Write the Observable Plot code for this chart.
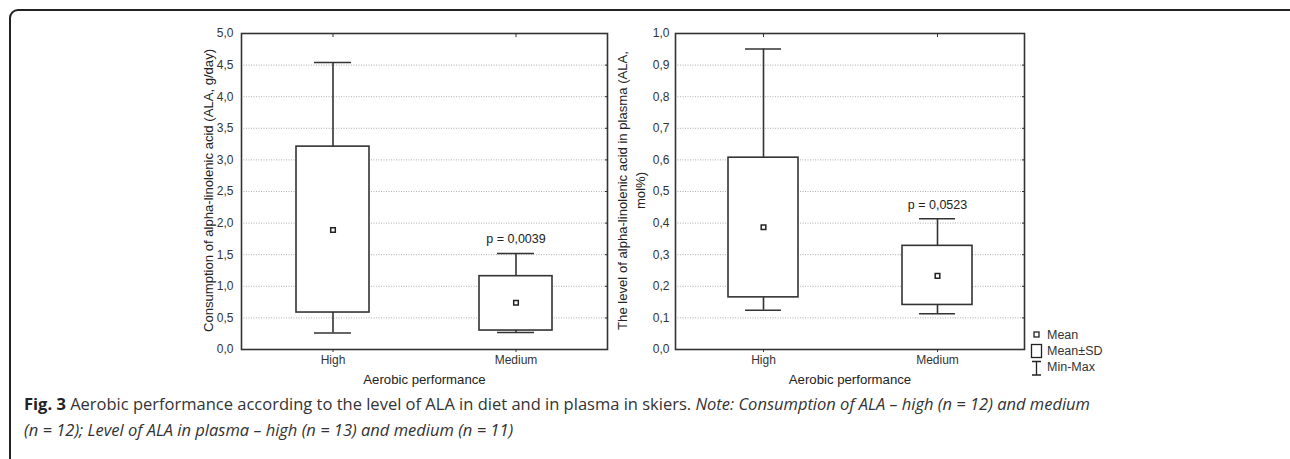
<!DOCTYPE html>
<html>
<head>
<meta charset="utf-8">
<script src="https://cdn.jsdelivr.net/npm/d3@7"></script>
<script src="https://cdn.jsdelivr.net/npm/@observablehq/plot@0.6"></script>
<style>
  html, body { margin: 0; padding: 0; background: #fff; }
  #root { position: relative; width: 1290px; height: 459px; overflow: hidden; background: #fff; }
  #border { position: absolute; left: 9px; top: 9px; width: 1290px; height: 520px; border: 2px solid #222;
            border-radius: 9px 6px 0 0; box-sizing: border-box; }
  .panel { position: absolute; top: 0; }
  #legend { position: absolute; left: 1026px; top: 324px; }
  #caption { position: absolute; left: 24px; top: 391px; white-space: nowrap; font-family: "Open Sans", "Noto Sans", sans-serif;
             font-size: 16.5px; line-height: 26px; color: #333; }
  #caption b { color: #222; }
</style>
</head>
<body>
<div id="root">
  <div id="border"></div>
  <div id="left" class="panel" style="left:180px"></div>
  <div id="right" class="panel" style="left:600px"></div>
  <svg id="legend" width="120" height="56"></svg>
  <div id="caption"></div>
</div>
<script>
// ---- data ----
const categories = ["High", "Medium"];
const xTitle = "Aerobic performance";

// Panel A: consumption of ALA (g/day)
const dietTitle = "Consumption of alpha-linolenic acid (ALA, g/day)";
const dietMean = [1.89, 0.74];
const dietMeanMinusSD = [0.585, 0.30];
const dietMeanPlusSD = [3.21, 1.16];
const dietMin = [0.26, 0.27];
const dietMax = [4.54, 1.52];
const dietP = ["", "p = 0,0039"];
const dietTicks = [0, 0.5, 1, 1.5, 2, 2.5, 3, 3.5, 4, 4.5, 5];

// Panel B: level of ALA in plasma (mol%)
const plasmaTitle = "The level of alpha-linolenic acid in plasma (ALA,\nmol%)";
const plasmaMean = [0.387, 0.233];
const plasmaMeanMinusSD = [0.165, 0.141];
const plasmaMeanPlusSD = [0.607, 0.328];
const plasmaMin = [0.124, 0.113];
const plasmaMax = [0.951, 0.414];
const plasmaP = ["", "p = 0,0523"];
const plasmaTicks = [0, 0.1, 0.2, 0.3, 0.4, 0.5, 0.6, 0.7, 0.8, 0.9, 1.0];

const legendItems = ["Mean", "Mean±SD", "Min-Max"];
const captionBold = "Fig. 3";
const captionText = " Aerobic performance according to the level of ALA in diet and in plasma in skiers. ";
const captionNoteLine1 = "Note: Consumption of ALA – high (n = 12) and medium";
const captionNoteLine2 = "(n = 12); Level of ALA in plasma – high (n = 13) and medium (n = 11)";

// ---- helpers ----
const fmt = d => d.toFixed(1).replace(".", ",");
const ink = "#333";

function panel({title, mean, lo, hi, min, max, p, ticks, domain, marginLeft, marginRight, tickPadding, titleDx, capInset}) {
  const rows = categories.map((c, i) => ({cat: c, mean: mean[i], lo: lo[i], hi: hi[i], min: min[i], max: max[i], p: p[i]}));
  return Plot.plot({
    width: 440, height: 400,
    marginLeft, marginRight, marginTop: 33, marginBottom: 51,
    x: {type: "band", domain: categories, paddingInner: 0.6, paddingOuter: 0.3},
    y: {domain},
    style: {fontFamily: "'Liberation Sans', Arial, sans-serif", fontSize: "12px", color: ink, background: "transparent", overflow: "visible"},
    marks: [
      Plot.gridY(ticks, {stroke: "#9a9a9a", strokeOpacity: 1, strokeDasharray: "1,1.5", strokeWidth: 0.8}),
      Plot.ruleX(rows, {x: "cat", y1: "min", y2: "max", stroke: ink, strokeWidth: 1.6}),
      Plot.tickY(rows, {x: "cat", y: "min", stroke: ink, strokeWidth: 1.6, insetLeft: capInset, insetRight: capInset}),
      Plot.tickY(rows, {x: "cat", y: "max", stroke: ink, strokeWidth: 1.6, insetLeft: capInset, insetRight: capInset}),
      Plot.barY(rows, {x: "cat", y1: "lo", y2: "hi", fill: "white", stroke: ink, strokeWidth: 1.6}),
      Plot.dot(rows, {x: "cat", y: "mean", symbol: "square", r: 2.6, fill: "white", stroke: "#222", strokeWidth: 1.5}),
      Plot.text(rows, {x: "cat", y: "max", text: "p", dy: -14, fontSize: 12.5, fill: "#222"}),
      Plot.axisY({ticks, tickSize: 0, tickPadding, tickFormat: fmt, label: null, fontSize: 12}),
      Plot.axisY({anchor: "right", ticks, tickSize: 3, dx: -3, tickFormat: () => "", label: null, stroke: ink}),
      Plot.axisX({tickSize: 3, tickPadding: 3, label: null, fontSize: 12, stroke: ink}),
      Plot.axisX({anchor: "top", tickSize: 3, dy: 3, tickFormat: () => "", label: null, stroke: ink}),
      Plot.frame({stroke: "#333", strokeWidth: 1.6}),
      Plot.text([xTitle], {text: d => d, frameAnchor: "bottom", dy: 34, fontSize: 13.2, fill: "#222"}),
      Plot.text([title], {text: d => d, frameAnchor: "left", textAnchor: "middle", lineAnchor: "middle", rotate: -90, dx: titleDx, dy: -1, fontSize: 13.1, lineHeight: 1.38, fill: "#222"})
    ]
  });
}

document.getElementById("left").append(panel({
  title: dietTitle, mean: dietMean, lo: dietMeanMinusSD, hi: dietMeanPlusSD, min: dietMin, max: dietMax, p: dietP,
  ticks: dietTicks, domain: [0, 5], marginLeft: 61, marginRight: 13, tickPadding: 8, titleDx: -34, capInset: 18
}));
document.getElementById("right").append(panel({
  title: plasmaTitle, mean: plasmaMean, lo: plasmaMeanMinusSD, hi: plasmaMeanPlusSD, min: plasmaMin, max: plasmaMax, p: plasmaP,
  ticks: plasmaTicks, domain: [0, 1], marginLeft: 75, marginRight: 16, tickPadding: 6, titleDx: -45, capInset: 17
}));

// ---- legend ----
const lg = d3.select("#legend");
const font = "'Liberation Sans', Arial, sans-serif";
lg.append("rect").attr("x", 8).attr("y", 8).attr("width", 5).attr("height", 5).attr("fill", "white").attr("stroke", "#222").attr("stroke-width", 1.3);
lg.append("rect").attr("x", 5.5).attr("y", 20.5).attr("width", 10).attr("height", 13).attr("fill", "white").attr("stroke", "#222").attr("stroke-width", 1.3);
lg.append("path").attr("d", "M6,37.5H15M10.5,37.5V51M6,51H15").attr("fill", "none").attr("stroke", "#222").attr("stroke-width", 1.3);
legendItems.forEach((t, i) => {
  lg.append("text").attr("x", 21).attr("y", 10.5 + i * 16).attr("dy", "0.35em")
    .attr("font-family", font).attr("font-size", 12.5).attr("fill", "#333").text(t);
});

// ---- caption ----
const cap = document.getElementById("caption");
const b = document.createElement("b"); b.textContent = captionBold; cap.append(b);
cap.append(document.createTextNode(captionText));
const it1 = document.createElement("i"); it1.textContent = captionNoteLine1; cap.append(it1);
cap.append(document.createElement("br"));
const it2 = document.createElement("i"); it2.textContent = captionNoteLine2; cap.append(it2);
</script>
</body>
</html>
